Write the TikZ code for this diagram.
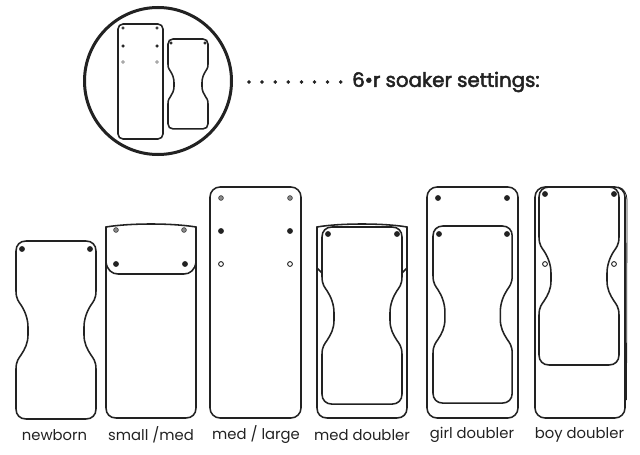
\documentclass[tikz,border=0pt]{standalone}
\usepackage{fontspec}
\usepackage{xcolor}
\newfontfamily\labelfont{Poppins}
\newfontfamily\titlefont[FakeBold=2.5]{Poppins}
\definecolor{ink}{HTML}{222222}
\definecolor{snapgray}{HTML}{8A8A8A}
\tikzset{
    outline/.style={draw=ink, line width=1.55pt},
    bigring/.style={draw=ink, line width=3pt},
    blacksnap/.style={fill=ink, draw=ink, line width=0.3pt},
    graysnap/.style={fill=snapgray, draw=ink, line width=0.5pt},
    whitesnap/.style={fill=white, draw=ink, line width=0.9pt},
    sizelabel/.style={font=\labelfont\fontsize{14.8}{17}\selectfont, text=ink},
    soaker/.pic={
        \draw[outline] (0,10) .. controls (0,4) and (4,0) .. (10,0) -- (70,0)
            .. controls (76,0) and (80,4) .. (80,10) -- (80,50)
            .. controls (80,58) and (77,61) .. (75,64)
            .. controls (71,70) and (68,78) .. (68,86) -- (68,94)
            .. controls (68,102) and (71,108) .. (75,114)
            .. controls (77,117) and (80,120) .. (80,128) -- (80,168)
            .. controls (80,174) and (76,178) .. (70,178) -- (10,178)
            .. controls (4,178) and (0,174) .. (0,168) -- (0,128)
            .. controls (0,120) and (3,117) .. (5,114)
            .. controls (9,108) and (12,102) .. (12,94) -- (12,86)
            .. controls (12,78) and (9,70) .. (5,64)
            .. controls (3,61) and (0,58) .. (0,50) -- cycle;
    }
}
\begin{document}
\begin{tikzpicture}[x=1pt, y=-1pt]
    \useasboundingbox[fill=white] (0,0) rectangle (640,455);
    % top circle
    \draw[bigring] (158,81) circle (73.5pt);
    \draw[outline, rounded corners=5pt] (118,24) rectangle (163,139);
    \filldraw[graysnap] (123,28) circle (1.3pt);
    \filldraw[graysnap] (157,28) circle (1.3pt);
    \filldraw[blacksnap] (123,46) circle (1.5pt);
    \filldraw[blacksnap] (157,46) circle (1.5pt);
    \draw[draw=snapgray, line width=0.7pt] (123,62) circle (1.4pt);
    \draw[draw=snapgray, line width=0.7pt] (157,62) circle (1.4pt);
    \pic[xscale=0.5, yscale=0.505] at (168,39) {soaker};
    \filldraw[blacksnap] (171,43) circle (1.4pt);
    \filldraw[blacksnap] (205,43) circle (1.4pt);
    % dotted lead
    \filldraw[ink] (249,82) circle (1.6pt);
    \filldraw[ink] (262,82) circle (1.6pt);
    \filldraw[ink] (275.2,82) circle (1.6pt);
    \filldraw[ink] (288.3,82) circle (1.6pt);
    \filldraw[ink] (301.4,82) circle (1.6pt);
    \filldraw[ink] (314.5,82) circle (1.6pt);
    \filldraw[ink] (327.6,82) circle (1.6pt);
    \filldraw[ink] (340.7,82) circle (1.6pt);
    \node[anchor=west, inner sep=0pt, text=ink, font=\titlefont\fontsize{19.8}{22}\selectfont] (title) at (352,82) {6•r soaker settings:};
    % newborn
    \pic at (16,241) {soaker};
    \filldraw[blacksnap] (22,249) circle (2.7pt);
    \filldraw[blacksnap] (90,249) circle (2.7pt);
    \node[sizelabel] (newborn) at (54.5,435) {newborn};
    % small / med
    \draw[outline] (106,227) .. controls (130,223) and (172,223) .. (196,227) -- (196,408)
        .. controls (196,414) and (192,418) .. (186,418) -- (116,418)
        .. controls (110,418) and (106,414) .. (106,408) -- cycle;
    \draw[outline] (106,262) .. controls (107,270) and (112,274) .. (118,274) -- (184,274)
        .. controls (190,274) and (195,270) .. (196,262);
    \filldraw[graysnap] (116,230) circle (2.4pt);
    \filldraw[graysnap] (184,230) circle (2.4pt);
    \filldraw[blacksnap] (116,264) circle (2.7pt);
    \filldraw[blacksnap] (185,264) circle (2.7pt);
    \node[sizelabel] (smallmed) at (151,435) {small /med};
    % med / large
    \draw[outline, rounded corners=10pt] (210,187) rectangle (301,418);
    \filldraw[graysnap] (221,198) circle (2.4pt);
    \filldraw[graysnap] (290,198) circle (2.4pt);
    \filldraw[blacksnap] (221,231) circle (2.7pt);
    \filldraw[blacksnap] (290,231) circle (2.7pt);
    \filldraw[whitesnap] (221,264) circle (2.4pt);
    \filldraw[whitesnap] (290,264) circle (2.4pt);
    \node[sizelabel] (medlarge) at (256,435) {med / large};
    % med doubler
    \draw[outline] (317,227) .. controls (340,223) and (384,223) .. (407,227) -- (407,408)
        .. controls (407,414) and (403,418) .. (397,418) -- (327,418)
        .. controls (321,418) and (317,414) .. (317,408) -- cycle;
    \draw[outline] (317,268) -- (322,273);
    \draw[outline] (407,268) -- (402,273);
    \pic[yscale=0.995] at (322,227) {soaker};
    \filldraw[blacksnap] (328,234) circle (2.7pt);
    \filldraw[blacksnap] (397,234) circle (2.7pt);
    \node[sizelabel] (meddoubler) at (362,435) {med doubler};
    % girl doubler
    \draw[outline, rounded corners=10pt] (427,187) rectangle (518,418);
    \filldraw[blacksnap] (438,198) circle (2.7pt);
    \filldraw[blacksnap] (507,198) circle (2.7pt);
    \pic[xscale=0.99, yscale=0.995] at (433,226) {soaker};
    \filldraw[blacksnap] (439,234) circle (2.7pt);
    \filldraw[blacksnap] (507,234) circle (2.7pt);
    \node[sizelabel] (girldoubler) at (472,435) {girl doubler};
    % boy doubler
    \draw[outline, rounded corners=10pt] (535,187) rectangle (625,418);
    \draw[draw=ink, line width=0.8pt] (618,187) .. controls (624,188) and (627,194) .. (627,200) -- (626.5,400);
    \pic at (539,187) {soaker};
    \filldraw[blacksnap] (545,194) circle (2.7pt);
    \filldraw[blacksnap] (614,194) circle (2.7pt);
    \filldraw[whitesnap] (545,264) circle (2.4pt);
    \filldraw[whitesnap] (614,264) circle (2.4pt);
    \node[sizelabel] (boydoubler) at (579.5,435) {boy doubler};
\end{tikzpicture}
\end{document}
